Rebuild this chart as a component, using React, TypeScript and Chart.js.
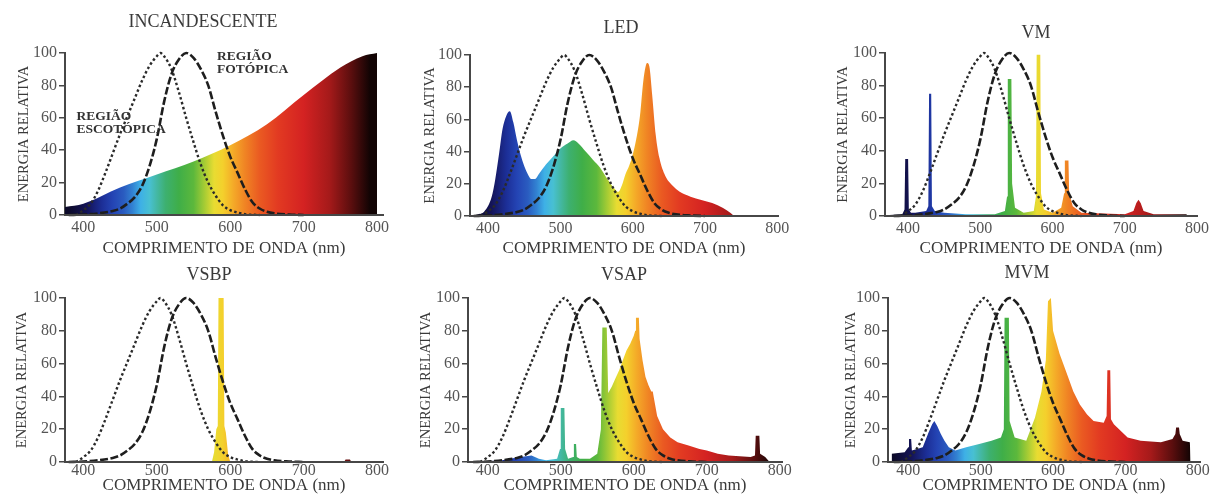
import React, { useEffect, useRef } from "react";
import { Chart, registerables } from "chart.js";

Chart.register(...registerables);

// ---------- data ----------
const panelTitles = ["INCANDESCENTE", "LED", "VM", "VSBP", "VSAP", "MVM"];
const xAxisTitle = "COMPRIMENTO DE ONDA (nm)";
const yAxisTitle = "ENERGIA RELATIVA";
const xTickValues = [400, 500, 600, 700, 800];
const yTickValues = [0, 20, 40, 60, 80, 100];

// eye sensitivity curves (relative, %)
const scotopicNm = [390, 400, 410, 420, 430, 440, 450, 460, 470, 480, 490, 500, 505, 510, 520, 530, 540, 550, 560, 570, 580, 590, 600, 610, 620, 640];
const scotopicValues = [0, 3, 7, 15, 26, 38, 50, 61, 72, 83, 92, 98, 100, 98, 90, 76, 60, 45, 31, 20, 12, 6, 3, 1.5, 0.5, 0];

const photopicNm = [380, 400, 420, 440, 450, 460, 470, 480, 490, 500, 510, 520, 530, 540, 550, 560, 570, 580, 590, 600, 610, 620, 630, 640, 650, 660, 680, 700];
const photopicValues = [0, 0.3, 1, 2.5, 4, 7, 11, 18, 30, 47, 70, 87, 96, 100, 97, 90, 80, 64, 49, 36, 26, 16, 8, 4, 2, 1, 0.3, 0];

// lamp spectra (relative energy, %)
const incandescentNm = [375, 400, 450, 500, 550, 600, 650, 700, 750, 780, 800];
const incandescentValues = [5, 7, 17, 25, 33, 43, 56, 74, 91, 98, 100];

const ledNm = [375, 385, 395, 405, 410, 415, 420, 425, 430, 435, 440, 445, 450, 455, 460, 465, 470, 480, 490, 500, 510, 518, 525, 535, 545, 555, 565, 575, 580, 585, 590, 595, 600, 605, 610, 615, 620, 623, 627, 632, 637, 645, 655, 665, 680, 695, 710, 725, 735, 740];
const ledValues = [0, 1, 3, 12, 23, 38, 54, 62, 65, 58, 47, 38, 31, 26, 23, 23, 26, 32, 37, 42, 45, 47, 45, 40, 35, 30, 23, 17, 15, 19, 26, 31, 38, 48, 62, 85, 95, 93, 75, 50, 36, 25, 19, 15, 12, 10, 8, 5, 2, 0];

const vmNm = [368, 392, 395, 396, 400, 401, 404, 410, 425, 428, 429, 432, 433, 437, 450, 480, 520, 534, 537, 538, 543, 544, 548, 560, 574, 577, 578, 583, 584, 588, 600, 612, 616, 617, 622, 623, 628, 640, 700, 712, 716, 719, 722, 726, 740, 785, 788];
const vmValues = [0.5, 1, 4, 35, 35, 4, 2, 2, 3, 6, 75, 75, 6, 3, 2, 1, 1, 3, 12, 84, 84, 20, 5, 2, 3, 12, 99, 99, 14, 4, 2, 5, 14, 34, 34, 14, 6, 2, 1, 3, 8, 10, 8, 3, 1, 1, 0];

const vsbpNm = [575, 578, 581, 583, 584, 591, 592, 594, 597, 600, 755, 757, 763, 765];
const vsbpValues = [0, 6, 20, 22, 100, 100, 22, 18, 5, 0, 0, 1.5, 1.5, 0];

const vsapNm = [373, 420, 430, 445, 460, 470, 480, 495, 499, 500, 505, 506, 510, 517, 518, 521, 522, 526, 540, 550, 555, 557, 563, 565, 570, 575, 580, 585, 590, 595, 600, 602, 603, 607, 608, 612, 616, 620, 624, 626, 628, 632, 640, 650, 660, 675, 690, 700, 715, 730, 760, 766, 767, 772, 773, 780, 786];
const vsapValues = [0, 1, 2, 3, 4, 2, 1, 2, 8, 33, 33, 8, 2, 3, 11, 11, 3, 2, 2, 5, 20, 82, 82, 42, 46, 51, 56, 62, 68, 72, 77, 80, 88, 88, 75, 62, 52, 47, 43, 43, 38, 28, 20, 15, 12, 10, 8, 7, 5, 4, 3, 4, 16, 16, 5, 3, 0];

const mvmNm = [377, 395, 400, 401, 404, 405, 412, 420, 428, 433, 436, 440, 445, 450, 456, 465, 480, 498, 515, 528, 532, 533, 539, 540, 547, 563, 575, 584, 590, 593, 597, 600, 609, 619, 628, 637, 647, 656, 670, 674, 675, 679, 680, 684, 703, 721, 749, 765, 769, 770, 774, 775, 779, 789, 790];
const mvmValues = [5, 6, 9, 14, 14, 7, 8, 9, 18, 23, 25, 22, 17, 13, 9, 7, 9, 11, 13, 15, 20, 88, 88, 25, 15, 13, 27, 43, 62, 98, 100, 80, 66, 54, 43, 35, 29, 25, 24, 28, 56, 56, 26, 23, 15, 13, 12, 14, 17, 21, 21, 17, 13, 12, 0];

// ---------- styles ----------
const FONT = "'Liberation Serif', 'Times New Roman', Times, serif";
const TEXT_COLOR = "#3a3a3a";
const TICK_COLOR = "#555555";
const AXIS_COLOR = "#474747";

const SPECTRUM_COLORS: [number, string][] = [
  [380, "#0c0a2a"],
  [405, "#141458"],
  [425, "#1c2e96"],
  [440, "#2444b4"],
  [455, "#2a5cc0"],
  [467, "#3282d2"],
  [478, "#3eb0e6"],
  [490, "#48c0d2"],
  [500, "#44b8a4"],
  [512, "#3db070"],
  [530, "#3fae48"],
  [550, "#5cb83c"],
  [565, "#a6cc34"],
  [578, "#e8dc32"],
  [590, "#f4d02c"],
  [605, "#f4a828"],
  [620, "#f08424"],
  [640, "#ea5a22"],
  [665, "#e23a22"],
  [700, "#d42222"],
  [735, "#a51a1a"],
  [765, "#5a0e0e"],
  [790, "#120404"],
];

type Box = { x: number; y: number; w: number; h: number };
type Area = { l: number; t: number; r: number; b: number };
type Note = { lines: string[]; nm: number; value: number };
type PanelDef = {
  title: string;
  nm: number[];
  values: number[];
  smooth: boolean;
  box: Box;
  area: Area;
  xMin: number;
  xMax: number;
  titleX: number;
  titleY: number;
  yTitleX: number;
  xTitleY: number;
  tickPad: number;
  notes: Note[];
};

const panels: PanelDef[] = [
  {
    title: panelTitles[0], nm: incandescentNm, values: incandescentValues, smooth: true,
    box: { x: 0, y: 0, w: 400, h: 262 }, area: { l: 65, t: 53, r: 383, b: 215 },
    xMin: 375, xMax: 808, titleX: 203, titleY: 22, yTitleX: 24, xTitleY: 249, tickPad: 3,
    notes: [
      { lines: ["REGIÃO", "ESCOTÓPICA"], nm: 390.5, value: 60.5 },
      { lines: ["REGIÃO", "FOTÓPICA"], nm: 582, value: 98 },
    ],
  },
  {
    title: panelTitles[1], nm: ledNm, values: ledValues, smooth: true,
    box: { x: 400, y: 0, w: 400, h: 262 }, area: { l: 470, t: 55, r: 778, b: 216 },
    xMin: 375, xMax: 801, titleX: 621, titleY: 28, yTitleX: 430, xTitleY: 249, tickPad: 3, notes: [],
  },
  {
    title: panelTitles[2], nm: vmNm, values: vmValues, smooth: false,
    box: { x: 800, y: 0, w: 414, h: 262 }, area: { l: 885, t: 53, r: 1197, b: 216 },
    xMin: 368, xMax: 800, titleX: 1036, titleY: 33, yTitleX: 843, xTitleY: 249, tickPad: 3, notes: [],
  },
  {
    title: panelTitles[3], nm: vsbpNm, values: vsbpValues, smooth: false,
    box: { x: 0, y: 250, w: 400, h: 251 }, area: { l: 65, t: 298, r: 383, b: 462 },
    xMin: 375, xMax: 808, titleX: 209, titleY: 275, yTitleX: 22, xTitleY: 486, tickPad: -1, notes: [],
  },
  {
    title: panelTitles[4], nm: vsapNm, values: vsapValues, smooth: false,
    box: { x: 400, y: 250, w: 400, h: 251 }, area: { l: 468, t: 298, r: 782, b: 462 },
    xMin: 373, xMax: 803, titleX: 624, titleY: 275, yTitleX: 426, xTitleY: 486, tickPad: -1, notes: [],
  },
  {
    title: panelTitles[5], nm: mvmNm, values: mvmValues, smooth: false,
    box: { x: 800, y: 250, w: 414, h: 251 }, area: { l: 888, t: 298, r: 1200, b: 462 },
    xMin: 372, xMax: 803, titleX: 1027, titleY: 273, yTitleX: 851, xTitleY: 486, tickPad: -1, notes: [],
  },
];

const X_TITLE_SIZE = 17;

const toPoints = (xs: number[], ys: number[]) => xs.map((x, i) => ({ x, y: ys[i] }));

function spectrumFill(c: any) {
  const chart = c.chart;
  const xs = chart.scales && chart.scales.x;
  if (!chart.chartArea || !xs) return "#888888";
  const x0 = xs.getPixelForValue(380);
  const x1 = xs.getPixelForValue(800);
  const g = chart.ctx.createLinearGradient(x0, 0, x1, 0);
  for (const [nm, col] of SPECTRUM_COLORS) g.addColorStop((nm - 380) / 420, col);
  return g;
}

function makeTextPlugin(p: PanelDef) {
  return {
    id: "panelText",
    afterDraw(chart: any) {
      const ctx = chart.ctx;
      ctx.save();
      ctx.fillStyle = TEXT_COLOR;
      ctx.textBaseline = "middle";
      ctx.textAlign = "center";
      ctx.font = `18px ${FONT}`;
      ctx.fillText(p.title, p.titleX - p.box.x, p.titleY - p.box.y);
      ctx.textAlign = "left";
      ctx.fillStyle = "#333333";
      ctx.font = `bold 13.5px ${FONT}`;
      for (const note of p.notes) {
        const x = chart.scales.x.getPixelForValue(note.nm);
        const y = chart.scales.y.getPixelForValue(note.value);
        note.lines.forEach((line, i) => ctx.fillText(line, x, y + i * 13));
      }
      ctx.restore();
    },
  };
}

function buildConfig(p: PanelDef): any {
  return {
    type: "line",
    data: {
      datasets: [
        {
          label: "Curva fotópica",
          data: toPoints(photopicNm, photopicValues),
          borderColor: "#1e1e1e",
          borderWidth: 2.6,
          borderDash: [8, 2.5],
          pointRadius: 0,
          fill: false,
          cubicInterpolationMode: "monotone",
          clip: false,
          order: 0,
        },
        {
          label: "Curva escotópica",
          data: toPoints(scotopicNm, scotopicValues),
          borderColor: "#2a2a2a",
          borderWidth: 2.4,
          borderDash: [2.5, 2.5],
          pointRadius: 0,
          fill: false,
          cubicInterpolationMode: "monotone",
          clip: false,
          order: 1,
        },
        {
          label: p.title,
          data: toPoints(p.nm, p.values),
          borderColor: "rgba(0,0,0,0)",
          borderWidth: 0,
          backgroundColor: spectrumFill,
          fill: "origin",
          pointRadius: 0,
          tension: 0,
          cubicInterpolationMode: p.smooth ? "monotone" : "default",
          order: 2,
        },
      ],
    },
    options: {
      responsive: false,
      animation: false,
      events: [],
      layout: {
        padding: { left: 0, top: p.area.t - p.box.y, right: p.box.x + p.box.w - p.area.r, bottom: 0 },
      },
      plugins: { legend: { display: false }, tooltip: { enabled: false }, title: { display: false } },
      scales: {
        x: {
          type: "linear",
          min: p.xMin,
          max: p.xMax,
          afterFit: (s: any) => { s.height = p.box.y + p.box.h - p.area.b; },
          afterBuildTicks: (s: any) => { s.ticks = xTickValues.map((v) => ({ value: v })); },
          ticks: { autoSkip: false, maxRotation: 0, padding: p.tickPad, color: TICK_COLOR, font: { family: FONT, size: 16 } },
          grid: { display: false, drawTicks: false },
          border: { display: true, color: AXIS_COLOR, width: 2, z: 1 },
          title: {
            display: true,
            text: xAxisTitle,
            color: TEXT_COLOR,
            font: { family: FONT, size: X_TITLE_SIZE, lineHeight: 1 },
            padding: { top: 0, bottom: p.box.y + p.box.h - p.xTitleY - X_TITLE_SIZE / 2 },
          },
        },
        y: {
          type: "linear",
          min: 0,
          max: 100,
          afterFit: (s: any) => { s.width = p.area.l - p.box.x; },
          afterBuildTicks: (s: any) => { s.ticks = yTickValues.map((v) => ({ value: v })); },
          ticks: { padding: 2, color: TICK_COLOR, font: { family: FONT, size: 16 } },
          grid: { display: true, drawOnChartArea: false, drawTicks: true, tickLength: 6, color: AXIS_COLOR, lineWidth: 1.5 },
          border: { display: true, color: AXIS_COLOR, width: 2 },
          title: {
            display: true,
            text: yAxisTitle,
            color: TEXT_COLOR,
            font: { family: FONT, size: 14.5, lineHeight: 1 },
            padding: { top: p.yTitleX - p.box.x - 7.25, bottom: 0 },
          },
        },
      },
    },
    plugins: [makeTextPlugin(p)],
  };
}

function SpectrumPanel({ panel }: { panel: PanelDef }) {
  const ref = useRef<HTMLCanvasElement | null>(null);
  useEffect(() => {
    if (!ref.current) return;
    const chart = new Chart(ref.current, buildConfig(panel));
    return () => chart.destroy();
  }, [panel]);
  const { box } = panel;
  return (
    <canvas
      ref={ref}
      width={box.w}
      height={box.h}
      style={{ position: "absolute", left: box.x, top: box.y, width: box.w, height: box.h, display: "block" }}
    />
  );
}

export default function App() {
  return (
    <div style={{ position: "absolute", left: 0, top: 0, width: 1214, height: 501, background: "#ffffff", overflow: "hidden" }}>
      {panels.map((p) => (
        <SpectrumPanel key={p.title} panel={p} />
      ))}
    </div>
  );
}
